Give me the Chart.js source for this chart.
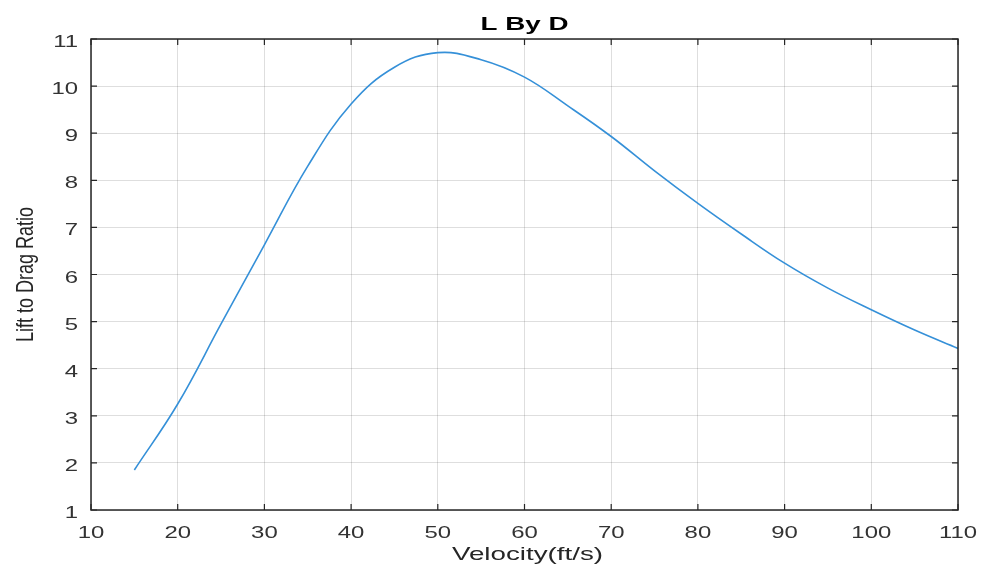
<!DOCTYPE html>
<html>
<head>
<meta charset="utf-8">
<script src="https://cdn.jsdelivr.net/npm/chart.js@4"></script>
<style>
  html, body { margin: 0; padding: 0; background: #fff; }
  #wrap { width: 982px; height: 570px; }
</style>
</head>
<body>
<div id="wrap"><canvas id="ldChart" width="982" height="570"></canvas></div>
<script>
// velocity (ft/s) and lift-to-drag ratio
var velocity = [15, 20, 25, 30, 35, 40, 45, 50, 55, 60, 65, 70, 75, 80, 85, 90, 95, 100, 105, 110];
var liftByDrag = [1.85, 3.25, 4.95, 6.63, 8.30, 9.62, 10.40, 10.71, 10.56, 10.19, 9.58, 8.93, 8.20, 7.51, 6.86, 6.24, 5.71, 5.25, 4.82, 4.43];
var xTicks = [10, 20, 30, 40, 50, 60, 70, 80, 90, 100, 110];
var yTicks = [1, 2, 3, 4, 5, 6, 7, 8, 9, 10, 11];
var chartTitle = 'L By D';
var xTitle = 'Velocity(ft/s)';
var yTitle = 'Lift to Drag Ratio';

var points = velocity.map(function(v, i) { return { x: v, y: liftByDrag[i] }; });

var axisColor = '#262626';
var fontFam = '"Liberation Sans", Arial, sans-serif';

// the source image is stretched sideways, so the text is too
function wideText(c, txt, x, y, sx, align) {
    c.save();
    c.translate(x, y);
    c.scale(sx, 1);
    c.textAlign = align;
    c.fillText(txt, 0, 0);
    c.restore();
}

// box with inward ticks, plus all labels
var boxPlugin = {
    id: 'box',
    afterDraw: function(chart) {
        var c = chart.ctx, a = chart.chartArea;
        var xs = chart.scales.x, ys = chart.scales.y;
        var len = 6;
        c.save();
        c.strokeStyle = axisColor;
        c.lineWidth = 1.5;
        c.strokeRect(a.left, a.top, a.right - a.left, a.bottom - a.top);
        c.lineWidth = 1.2;
        c.beginPath();
        xTicks.forEach(function(t) {
            var px = xs.getPixelForValue(t);
            c.moveTo(px, a.bottom); c.lineTo(px, a.bottom - len);
            c.moveTo(px, a.top); c.lineTo(px, a.top + len);
        });
        yTicks.forEach(function(t) {
            var py = ys.getPixelForValue(t);
            c.moveTo(a.left, py); c.lineTo(a.left + len, py);
            c.moveTo(a.right, py); c.lineTo(a.right - len, py);
        });
        c.stroke();

        c.textBaseline = 'alphabetic';
        c.fillStyle = '#333';
        c.font = '16.5px ' + fontFam;
        xTicks.forEach(function(t) {
            wideText(c, String(t), xs.getPixelForValue(t), 537.5, 1.45, 'center');
        });
        yTicks.forEach(function(t) {
            wideText(c, String(t), a.left - 13, ys.getPixelForValue(t) + 8, 1.45, 'right');
        });

        c.fillStyle = '#262626';
        c.font = '18.5px ' + fontFam;
        wideText(c, xTitle, (a.left + a.right) / 2 + 3, 560, 1.5, 'center');

        // vertical label: stretched across its glyphs, not along the text
        c.save();
        c.translate(33, (a.top + a.bottom) / 2);
        c.rotate(-Math.PI / 2);
        c.scale(1.0, 1.3);
        c.font = '18px ' + fontFam;
        c.textAlign = 'center';
        c.fillText(yTitle, 0, 0);
        c.restore();

        c.fillStyle = '#000';
        c.font = 'bold 18.5px ' + fontFam;
        wideText(c, chartTitle, (a.left + a.right) / 2, 29.5, 1.5, 'center');
        c.restore();
    }
};

var ctx = document.getElementById('ldChart').getContext('2d');
var ldChart = new Chart(ctx, {
    type: 'line',
    data: {
        datasets: [{
            label: 'L/D',
            data: points,
            borderColor: '#3590d8',
            borderWidth: 1.6,
            pointRadius: 0,
            fill: false,
            tension: 0.4
        }]
    },
    options: {
        responsive: false,
        animation: false,
        layout: { padding: { left: 0, top: 39, right: 24, bottom: 0 } },
        plugins: {
            legend: { display: false },
            tooltip: { enabled: false }
        },
        scales: {
            x: {
                type: 'linear',
                min: 10,
                max: 110,
                afterBuildTicks: function(scale) {
                    scale.ticks = xTicks.map(function(v) { return { value: v }; });
                },
                afterFit: function(scale) { scale.height = 60; },
                grid: { color: 'rgba(0,0,0,0.13)', drawTicks: false },
                border: { display: false },
                ticks: { display: false }
            },
            y: {
                min: 1,
                max: 11,
                afterBuildTicks: function(scale) {
                    scale.ticks = yTicks.map(function(v) { return { value: v }; });
                },
                afterFit: function(scale) { scale.width = 91; },
                grid: { color: 'rgba(0,0,0,0.13)', drawTicks: false },
                border: { display: false },
                ticks: { display: false }
            }
        }
    },
    plugins: [boxPlugin]
});
</script>
</body>
</html>
